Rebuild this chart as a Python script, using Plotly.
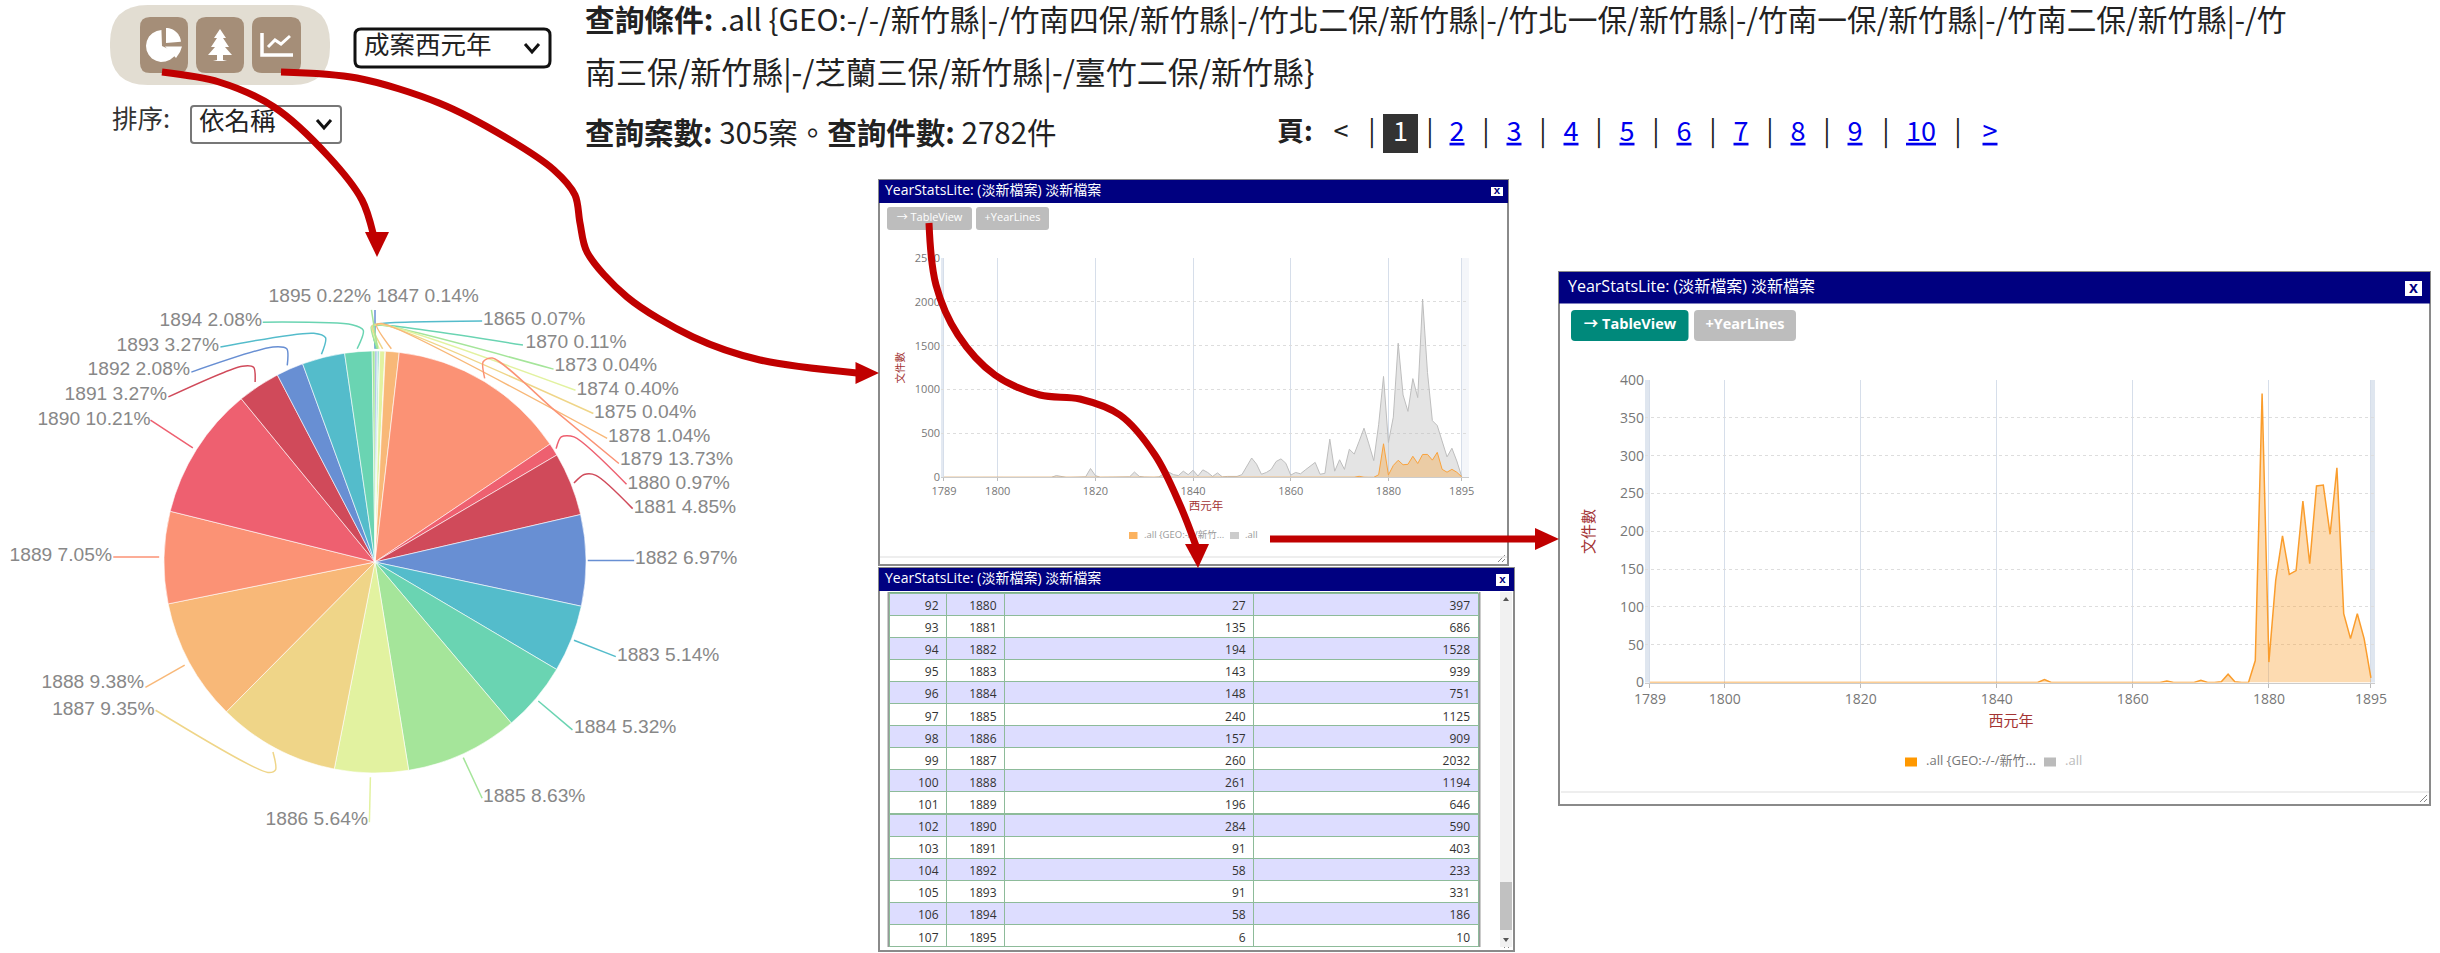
import math
import plotly.graph_objects as go

W, H = 2440, 953

# ---------------- DATA ----------------
pie_years = [1847, 1865, 1870, 1873, 1874, 1875, 1878, 1879, 1880, 1881, 1882, 1883,
             1884, 1885, 1886, 1887, 1888, 1889, 1890, 1891, 1892, 1893, 1894, 1895]
pie_counts = [4, 2, 3, 1, 11, 1, 29, 382, 27, 135, 194, 143,
              148, 240, 157, 260, 261, 196, 284, 91, 58, 91, 58, 6]
pie_colors = ["#688fd3", "#54bccb", "#6ad4b2", "#a5e59a", "#e2f2a0", "#efd588", "#f8b878", "#fb9275",
              "#ee6070", "#d04a5a", "#688fd3", "#54bccb", "#6ad4b2", "#a5e59a", "#e2f2a0", "#efd588",
              "#f8b878", "#fb9275", "#ee6070", "#d04a5a", "#688fd3", "#54bccb", "#6ad4b2", "#a5e59a"]
total_docs = 2782

years = list(range(1789, 1896))
all_counts = [0] * 23 + [20, 10, 0, 0, 0, 0, 5, 100, 20, 0, 0, 0, 0, 0, 0, 5, 60, 10, 3, 0, 0, 5, 40, 60, 30,
              20, 70, 30, 80, 15, 85, 55, 10, 50, 5, 10, 10, 10, 30, 130, 220, 150, 35, 55, 90, 180, 210, 160,
              25, 55, 40, 85, 130, 170, 35, 45, 435, 70, 200, 90, 320, 265, 410, 560, 380, 190, 600, 1150,
              397, 686, 1528, 939, 751, 1125, 909, 2032, 1194, 646, 590, 403, 233, 331, 186, 10]
selected_map = dict(zip(pie_years, pie_counts))
selected_counts = [selected_map.get(y, 0) for y in years]

x_ticks = [1789, 1800, 1820, 1840, 1860, 1880, 1895]
y_ticks_small = [0, 500, 1000, 1500, 2000, 2500]
y_ticks_large = [0, 50, 100, 150, 200, 250, 300, 350, 400]

row_no = list(range(92, 108))
row_year = list(range(1880, 1896))
row_sel = [27, 135, 194, 143, 148, 240, 157, 260, 261, 196, 284, 91, 58, 91, 58, 6]
row_all = [397, 686, 1528, 939, 751, 1125, 909, 2032, 1194, 646, 590, 403, 233, 331, 186, 10]

line1 = "<b>查詢條件:</b> .all {GEO:-/-/新竹縣|-/竹南四保/新竹縣|-/竹北二保/新竹縣|-/竹北一保/新竹縣|-/竹南一保/新竹縣|-/竹南二保/新竹縣|-/竹"
line2 = "南三保/新竹縣|-/芝蘭三保/新竹縣|-/臺竹二保/新竹縣}"
line3 = "<b>查詢案數:</b> 305案。<b>查詢件數:</b> 2782件"
win_title = "YearStatsLite: (淡新檔案) 淡新檔案"
legend_a = ".all {GEO:-/-/新竹..."
legend_b = ".all"
x_title = "西元年"
y_title = "文件數"

# ---------------- HELPERS ----------------
CJK = "Noto Sans CJK TC"
UI = "Open Sans, Noto Sans CJK TC"
RED = "#c00000"
TITLE_RED = "#a33333"
fx = lambda x: x / W
fy = lambda y: 1 - y / H

fig = go.Figure()
shapes = []


def rect(x0, y0, x1, y1, fill=None, line=None, lw=1, r=0, layer="below"):
    if r:
        d = (f"M{fx(x0 + r)},{fy(y0)} L{fx(x1 - r)},{fy(y0)} Q{fx(x1)},{fy(y0)} {fx(x1)},{fy(y0 + r)} "
             f"L{fx(x1)},{fy(y1 - r)} Q{fx(x1)},{fy(y1)} {fx(x1 - r)},{fy(y1)} L{fx(x0 + r)},{fy(y1)} "
             f"Q{fx(x0)},{fy(y1)} {fx(x0)},{fy(y1 - r)} L{fx(x0)},{fy(y0 + r)} Q{fx(x0)},{fy(y0)} {fx(x0 + r)},{fy(y0)} Z")
        shapes.append(dict(type="path", xref="paper", yref="paper", path=d, fillcolor=fill or "rgba(0,0,0,0)",
                           line=dict(color=line or "rgba(0,0,0,0)", width=lw), layer=layer))
    else:
        shapes.append(dict(type="rect", xref="paper", yref="paper", x0=fx(x0), x1=fx(x1), y0=fy(y1), y1=fy(y0),
                           fillcolor=fill or "rgba(0,0,0,0)", line=dict(color=line or "rgba(0,0,0,0)", width=lw),
                           layer=layer))


def poly(pts, fill=None, line=None, lw=1, close=True, layer="below"):
    d = "M" + " L".join(f"{fx(a)},{fy(b)}" for a, b in pts) + (" Z" if close else "")
    shapes.append(dict(type="path", xref="paper", yref="paper", path=d, fillcolor=fill or "rgba(0,0,0,0)",
                       line=dict(color=line or "rgba(0,0,0,0)", width=lw), layer=layer))


def txt(x, y, s, size, color="#222", anchor="left", font=CJK, under=False):
    pos = {"left": "middle right", "right": "middle left", "center": "middle center"}[anchor]
    tf = dict(size=size, color=color, family=font)
    if under:
        tf["lineposition"] = "under"
    fig.add_trace(go.Scatter(x=[x], y=[y], text=[s], mode="text", textposition=pos, textfont=tf,
                             xaxis="x", yaxis="y", showlegend=False, hoverinfo="skip", cliponaxis=False))


def curve(pts, color, width, smooth=1.0, axis=4):
    fig.add_trace(go.Scatter(x=[p[0] for p in pts], y=[p[1] for p in pts], mode="lines",
                             line=dict(color=color, width=width, shape="spline", smoothing=smooth),
                             xaxis=f"x{axis}", yaxis=f"y{axis}", showlegend=False, hoverinfo="skip"))


def head(pts):
    fig.add_trace(go.Scatter(x=[p[0] for p in pts] + [pts[0][0]], y=[p[1] for p in pts] + [pts[0][1]], mode="lines",
                             fill="toself", fillcolor=RED, line=dict(color=RED, width=0),
                             xaxis="x4", yaxis="y4", showlegend=False, hoverinfo="skip"))


def arc(cx, cy, r, a0, a1, n=14):
    return [(cx + r * math.sin(math.radians(a0 + (a1 - a0) * i / n)),
             cy - r * math.cos(math.radians(a0 + (a1 - a0) * i / n))) for i in range(n + 1)]


# ---------------- PAGE HEADER ----------------
rect(110, 5, 330, 85, fill="#e2ddd2", r=38)
for a, b in [(140, 188), (196, 244), (252, 301)]:
    rect(a, 17, b, 73, fill="#a58e78", r=10)
# pie icon
poly([(162, 46)] + arc(162, 46, 16, 115, 358), fill="white")
poly([(166, 43)] + arc(166, 43, 15, 0, 85), fill="white")
poly([(165, 46.5), (182, 46.5), (180, 52), (176, 58)], fill="white")
# tree icon
poly([(220, 29), (226, 38), (223, 38), (229, 47), (225, 47), (232, 55), (223, 55), (223, 60), (227, 61), (213, 61),
      (217, 60), (217, 55), (208, 55), (215, 47), (211, 47), (217, 38), (214, 38)], fill="white")
# line-chart icon
poly([(262, 33), (262, 55), (293, 55)], line="white", lw=3.5, close=False)
poly([(268, 47), (275, 40), (281, 44), (290, 36)], line="white", lw=3, close=False)

rect(355, 29, 550, 67, fill="white", line="#111", lw=3, r=6)
txt(364, 48, "成案西元年", 25.5)
poly([(525, 44), (532, 52), (539, 44)], line="#111", lw=3, close=False)
txt(112, 122, "排序:", 25.5, "#333")
rect(191, 106, 341, 143, fill="white", line="#777", lw=2, r=3)
txt(199, 124, "依名稱", 25.5)
poly([(317, 120), (324, 128), (331, 120)], line="#111", lw=3, close=False)

txt(585, 24, line1, 29.7)
txt(585, 76, line2, 31)
txt(585, 137, line3, 29.5)

txt(1295, 134, "<b>頁:</b>", 27, anchor="center")
txt(1341, 134, "<", 27, anchor="center")
rect(1383, 114, 1418, 153, fill="#333333")
txt(1400.5, 134, "1", 27, "white", "center")
sep_x = [1372, 1430, 1486, 1543, 1599, 1656, 1713, 1770, 1827, 1886, 1958]
for sx in sep_x:
    txt(sx, 134, "|", 27, "#222", "center")
page_labels = ["2", "3", "4", "5", "6", "7", "8", "9", "10", ">"]
page_x = [1457, 1514, 1571, 1627, 1684, 1741, 1798, 1855, 1921, 1990]
for px, lab in zip(page_x, page_labels):
    txt(px, 134, lab, 27, "#0000ee", "center", under=True)


# ---------------- WINDOWS ----------------
def window(x0, y0, x1, y1, tb, tsize, xsize, cb):
    rect(x0, y0, x1, y1, fill="white", line="#8a8a8a", lw=2)
    rect(x0, y0, x1, tb, fill="#000080")
    txt(x0 + (6 if tsize < 15 else 9), (y0 + tb) / 2, win_title, tsize, "#ffffff", font=UI)
    rect(cb[0], cb[1], cb[2], cb[3], fill="white")
    txt((cb[0] + cb[2]) / 2, (cb[1] + cb[3]) / 2, "<b>x</b>", xsize, "#000080", "center", font="Liberation Sans")
    poly([(x1 - 3, y1 - 10), (x1 - 10, y1 - 3)], line="#888", lw=1, close=False)
    poly([(x1 - 3, y1 - 6), (x1 - 6, y1 - 3)], line="#888", lw=1, close=False)


window(879, 180, 1508, 565, 203, 14, 11.5, (1491, 187, 1503, 196))
rect(887, 207, 972, 230, fill="#bdbdbd", r=3)
txt(929.5, 218.5, "→ TableView", 11, "white", "center", font=UI)
rect(976, 207, 1049, 230, fill="#bdbdbd", r=3)
txt(1012.5, 218.5, "+YearLines", 11, "white", "center", font=UI)
rect(941, 258, 944, 477, fill="#e3e9f2")
rect(1461.6, 258, 1469, 477, fill="#f4f6fa")
rect(1129, 532, 1137.5, 539, fill="#fbb25f")
txt(1144, 535.5, legend_a, 9.5, "#999", font=UI)
rect(1230, 532, 1239, 539, fill="#cccccc")
txt(1245, 535.5, legend_b, 9.5, "#999", font=UI)
poly([(880, 557), (1507, 557)], line="#e8e8e8", lw=1.5, close=False)
txt(1206, 507, x_title, 11.5, TITLE_RED, "center")

window(879, 568, 1514, 951, 591, 14, 11.5, (1496, 574, 1509, 586))
rect(1500, 592, 1512, 947, fill="#f1f1f1")
rect(1500, 882, 1512, 930, fill="#c1c1c1")
poly([(1503, 601), (1506, 597), (1509, 601)], fill="#555")
poly([(1503, 938), (1506, 942), (1509, 938)], fill="#555")
rect(887.5, 592, 889, 947, fill="#999")
rect(1478.6, 592, 1480.5, 947, fill="#999")

window(1559, 272, 2430, 805, 303.5, 16, 16, (2405, 281, 2422, 296))
rect(1571, 310, 1688.5, 341, fill="#00897b", r=4)
txt(1630, 325.5, "<b>→ TableView</b>", 14.5, "white", "center", font=UI)
rect(1694, 310, 1796, 341, fill="#bdbdbd", r=4)
txt(1745, 325.5, "<b>+YearLines</b>", 14.5, "white", "center", font=UI)
rect(1645, 380, 1650, 682.5, fill="#dfe6ef")
rect(2371, 380, 2375, 682.5, fill="#dfe6ef")
rect(1905, 757.5, 1917, 766.5, fill="#ff9800")
txt(1926, 762, legend_a, 13, "#777", font=UI)
rect(2044, 757.5, 2056, 766.5, fill="#bbbbbb")
txt(2065, 762, legend_b, 13, "#bbb", font=UI)
poly([(1561, 792), (2429, 792)], line="#e8e8e8", lw=1.5, close=False)
txt(2011, 722, x_title, 15, TITLE_RED, "center")

# ---------------- AREA CHARTS ----------------
fig.add_trace(go.Scatter(x=years, y=all_counts, mode="lines", fill="tozeroy", fillcolor="rgba(190,190,190,0.42)",
                         line=dict(color="#bdbdbd", width=1), xaxis="x2", yaxis="y2", showlegend=False,
                         hoverinfo="skip"))
fig.add_trace(go.Scatter(x=years, y=selected_counts, mode="lines", fill="tozeroy",
                         fillcolor="rgba(250,160,50,0.35)", line=dict(color="#f9a23c", width=1),
                         xaxis="x2", yaxis="y2", showlegend=False, hoverinfo="skip"))
fig.add_trace(go.Scatter(x=years, y=selected_counts, mode="lines", fill="tozeroy",
                         fillcolor="rgba(250,160,50,0.38)", line=dict(color="#fa9d2d", width=1.5),
                         xaxis="x3", yaxis="y3", showlegend=False, hoverinfo="skip"))

# ---------------- PIE ----------------
fig.add_trace(go.Pie(labels=[str(y) for y in pie_years], values=pie_counts, sort=False, direction="clockwise",
                     rotation=0, textinfo="none", showlegend=False, hoverinfo="label+percent",
                     marker=dict(colors=pie_colors, line=dict(color="white", width=0.6)),
                     domain=dict(x=[fx(164), fx(586)], y=[fy(773), fy(351)])))

# slice labels: measured anchor points, (x, y, side)
label_pos = [(376.5, 297, "left"), (483, 320, "left"), (525.5, 343, "left"), (554.6, 366, "left"),
             (576.5, 390, "left"), (594, 413.5, "left"), (608, 437, "left"), (620, 460, "left"),
             (627.5, 484, "left"), (633.7, 508, "left"), (635, 559, "left"), (617, 656, "left"),
             (574, 728, "left"), (483, 797, "left"), (368, 820.5, "right"), (154.6, 710, "right"),
             (144, 683.6, "right"), (112, 556, "right"), (150.5, 420, "right"), (167, 395, "right"),
             (190, 370, "right"), (219, 346, "right"), (262, 321, "right"), (371, 297, "right")]
for yr, c, (lx, ly, side) in zip(pie_years, pie_counts, label_pos):
    txt(lx, ly, f"{yr} {c / total_docs * 100:.2f}%", 19.2, "#888888", side, font="Liberation Sans")

Z = lambda a, b: (a / 1.96, b / 2.703 + 260)
leaders = [
    [(735, 240), (735, 135)],
    [(738, 240), (731, 178), (745, 172), (945, 165)],
    [(738, 240), (731, 180), (745, 176), (1025, 230)],
    [(740, 240), (728, 180), (745, 176), (1085, 295)],
    [(743, 240), (730, 180), (745, 174), (1128, 352)],
    [(750, 240), (730, 178), (748, 174), (1163, 415)],
    [(767, 240), (738, 176), (750, 172), (1190, 482)],
    [(950, 320), (947, 275), (965, 265), (1090, 410), (1213, 550)],
    [(1090, 510), (1100, 478), (1125, 478), (1228, 606)],
    [(1125, 603), (1145, 580), (1168, 582), (1240, 672)],
    [(1152, 812), (1243, 812)],
    [(1125, 1028), (1207, 1072)],
    [(1055, 1192), (1122, 1270)],
    [(908, 1345), (945, 1455)],
    [(726, 1398), (724, 1520)],
    [(535, 1330), (540, 1378), (525, 1385), (305, 1217)],
    [(362, 1095), (285, 1155)],
    [(312, 803), (222, 803)],
    [(378, 508), (295, 433)],
    [(500, 330), (497, 290), (475, 287), (330, 370)],
    [(563, 285), (562, 240), (535, 235), (375, 303)],
    [(630, 255), (638, 210), (615, 198), (432, 235)],
    [(700, 240), (712, 190), (690, 175), (515, 168)],
    [(740, 240), (728, 135)],
]
for pts, col in zip(leaders, pie_colors):
    curve([Z(*p) for p in pts], col, 1.5, 0.8)

# ---------------- TABLE ----------------
fills = ["#ddddff" if i % 2 == 0 else "#ffffff" for i in range(len(row_no))]
fig.add_trace(go.Table(
    domain=dict(x=[fx(889), fx(1478.6)], y=[fy(948), fy(592)]),
    columnwidth=[57.6, 58.1, 249.3, 224.6],
    header=dict(values=["", "", "", ""], height=1, fill_color="#7aae8a", line=dict(width=0),
                font=dict(size=1, color="#7aae8a")),
    cells=dict(values=[row_no, row_year, row_sel, row_all], height=22.1, align="right",
               fill=dict(color=[fills] * 4), line=dict(color="#8dbb9a", width=1),
               font=dict(size=12, color="#333333", family="Open Sans"))))

# ---------------- ARROWS ----------------
curve([(162, 72), (219, 82), (274, 107), (329, 157), (362, 200), (373, 233)], RED, 7, 0.9)
head([(365, 232), (389, 232), (377, 257)])
curve([(281, 72), (357, 78), (439, 103), (505, 137), (554, 170), (575, 195), (580, 223), (587, 252), (627, 297),
       (693, 337), (760, 360), (857, 373)], RED, 7, 0.9)
head([(855.5, 362), (855.5, 384), (879, 373)])
curve([(929, 223), (936, 285), (958, 335), (995, 375), (1040, 395), (1080, 399), (1120, 415), (1155, 455),
       (1180, 505), (1196, 546)], RED, 7, 1.0)
head([(1185, 544), (1209, 544), (1198, 568)])
curve([(1270, 539), (1536, 539)], RED, 7)
head([(1535, 528), (1535, 550), (1559, 539)])

# ---------------- LAYOUT ----------------
hidden = dict(visible=False, fixedrange=True, automargin=False)
tick_small = dict(size=11, color="#777777", family=UI)
tick_large = dict(size=14, color="#777777", family=UI)
fig.update_layout(
    template="none",
    width=W, height=H, margin=dict(l=0, r=0, t=0, b=0, pad=0, autoexpand=False),
    paper_bgcolor="white", plot_bgcolor="rgba(0,0,0,0)",
    showlegend=False, shapes=shapes,
    annotations=[dict(xref="paper", yref="paper", x=fx(1587), y=fy(532), text=y_title, textangle=-90, showarrow=False,
                      font=dict(size=15, color=TITLE_RED, family=CJK))],
    xaxis=dict(range=[0, W], domain=[0, 1], **hidden),
    yaxis=dict(range=[H, 0], domain=[0, 1], **hidden),
    xaxis4=dict(range=[0, W], domain=[0, 1], **hidden),
    yaxis4=dict(range=[H, 0], domain=[0, 1], **hidden),
    xaxis2=dict(domain=[fx(941), fx(1469)], range=[1788.39, 1896.5], anchor="y2", tickmode="array", tickvals=x_ticks,
                automargin=False, showgrid=True, gridcolor="#d6deea", gridwidth=1, zeroline=False, showline=True,
                linecolor="#cccccc", ticks="outside", ticklen=3, tickcolor="#bbbbbb", tickfont=tick_small),
    yaxis2=dict(domain=[fy(477.3), fy(258)], range=[0, 2500], anchor="x2", tickmode="array", tickvals=y_ticks_small,
                automargin=False, showgrid=True, gridcolor="#dddddd", griddash="dot", zeroline=False, showline=False,
                ticks="", tickfont=tick_small,
                title=dict(text=y_title, font=dict(size=10.5, color=TITLE_RED, family=CJK), standoff=8)),
    xaxis3=dict(domain=[fx(1645), fx(2375)], range=[1788.27, 1895.6], anchor="y3", tickmode="array", tickvals=x_ticks,
                automargin=False, showgrid=True, gridcolor="#d6deea", gridwidth=1, zeroline=False, showline=True,
                linecolor="#cccccc", ticks="outside", ticklen=4, tickcolor="#bbbbbb", tickfont=tick_large),
    yaxis3=dict(domain=[fy(682.5), fy(380)], range=[0, 400], anchor="x3", tickmode="array", tickvals=y_ticks_large,
                automargin=False, showgrid=True, gridcolor="#dddddd", griddash="dot", zeroline=False, showline=False,
                ticks="", tickfont=tick_large),
)
fig.write_html("out.html", config=dict(displayModeBar=False),
               post_script="document.body.style.margin='0';document.documentElement.style.overflow='hidden';")
